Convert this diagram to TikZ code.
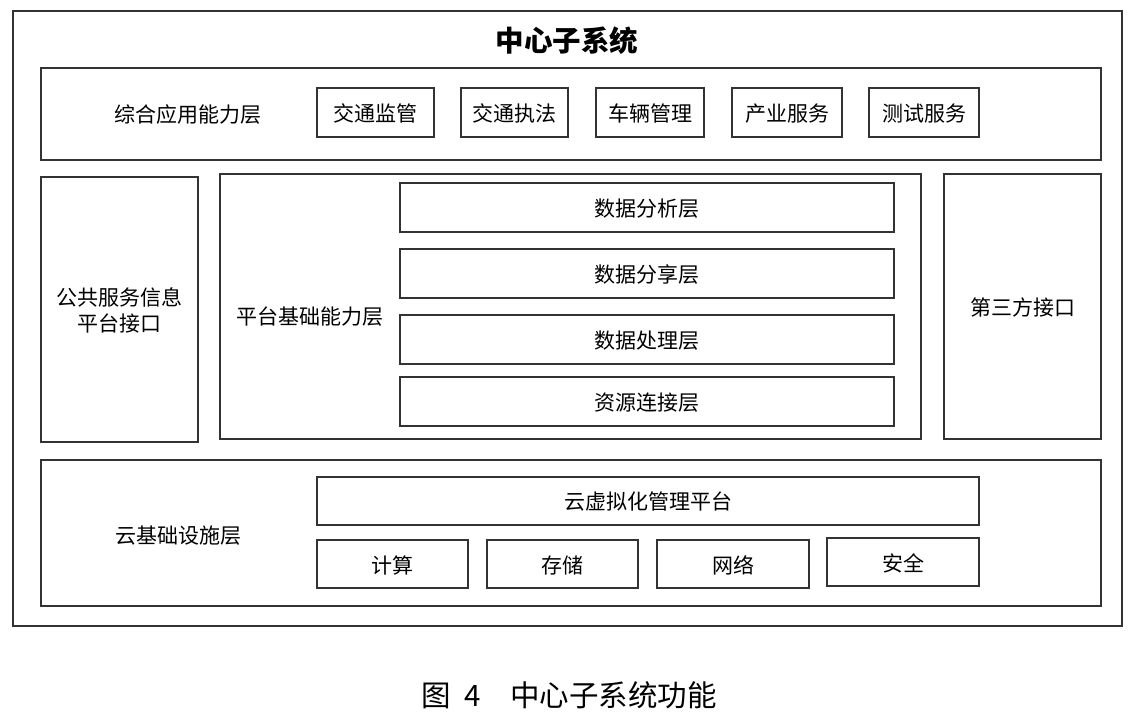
\documentclass[tikz,border=0pt]{standalone}
\usepackage{fontspec}
\newfontfamily\cjk{Noto Sans CJK SC}
\begin{document}
\begin{tikzpicture}[x=1pt,y=-1pt,
  box/.style={draw=black!80,line width=1.3pt},
  lbl/.style={font=\cjk\fontsize{21}{26}\selectfont,align=center,inner sep=0pt},
  ibox/.style={box,font=\cjk\fontsize{21}{26}\selectfont,inner sep=0pt}]
\useasboundingbox[fill=white] (0,0) rectangle (1131,717);
% outer frame
\draw[box] (13,11) rectangle (1122,626);
\node[font=\cjk\bfseries\fontsize{28.5}{32}\selectfont] (title) at (567,41) {中心子系统};
% top layer
\draw[box] (41,68) rectangle (1101,160);
\node[lbl] (app) at (188,115) {综合应用能力层};
\draw[box] (317,88) rectangle (434,137) node[lbl,midway,yshift=-1pt] (a1) {交通监管};
\draw[box] (461,88) rectangle (568,137) node[lbl,midway,yshift=-1pt] (a2) {交通执法};
\draw[box] (596,88) rectangle (704,137) node[lbl,midway,yshift=-1pt] (a3) {车辆管理};
\draw[box] (732,88) rectangle (842,137) node[lbl,midway,yshift=-1pt] (a4) {产业服务};
\draw[box] (869,88) rectangle (979,137) node[lbl,midway,yshift=-1pt] (a5) {测试服务};
% middle
\draw[box] (41,177) rectangle (198,442) node[lbl,midway,yshift=-1pt] (pub) {公共服务信息\\平台接口};
\draw[box] (220,174) rectangle (921,439);
\node[lbl] (plat) at (310,317) {平台基础能力层};
\draw[box] (400,183) rectangle (894,232) node[lbl,midway,yshift=-1pt] (p1) {数据分析层};
\draw[box] (400,249) rectangle (894,298) node[lbl,midway,yshift=-1pt] (p2) {数据分享层};
\draw[box] (400,315) rectangle (894,364) node[lbl,midway,yshift=-1pt] (p3) {数据处理层};
\draw[box] (400,377) rectangle (894,426) node[lbl,midway,yshift=-1pt] (p4) {资源连接层};
\draw[box] (944,174) rectangle (1101,439) node[lbl,midway,yshift=-1pt] (third) {第三方接口};
% bottom
\draw[box] (41,460) rectangle (1101,606);
\node[lbl] (cloud) at (178,536) {云基础设施层};
\draw[box] (317,477) rectangle (979,525) node[lbl,midway,yshift=-1pt] (virt) {云虚拟化管理平台};
\draw[box] (317,540) rectangle (468,588) node[lbl,midway,yshift=-1pt] (c1) {计算};
\draw[box] (487,540) rectangle (638,588) node[lbl,midway,yshift=-1pt] (c2) {存储};
\draw[box] (657,540) rectangle (809,588) node[lbl,midway,yshift=-1pt] (c3) {网络};
\draw[box] (827,538) rectangle (979,586) node[lbl,midway,yshift=-1pt] (c4) {安全};
% caption
\node[font=\cjk\fontsize{29.5}{32}\selectfont,anchor=base] (cap) at (569,706) {图\ \ 4\quad 中心子系统功能};
\end{tikzpicture}
\end{document}
